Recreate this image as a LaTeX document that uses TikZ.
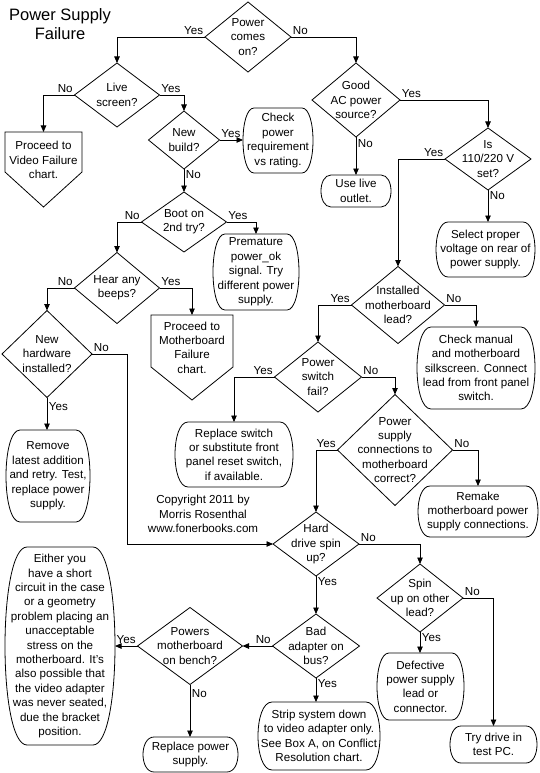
\documentclass[tikz,border=0pt]{standalone}
\usepackage{fontspec}
\setmainfont{Liberation Sans}
\usetikzlibrary{shapes.geometric,arrows.meta,calc}

\tikzset{
  shapeline/.style={draw=black, line width=0.8pt},
  dia/.style={diamond, draw=black, line width=0.8pt, inner sep=0pt, outer sep=0pt},
  txt/.style={align=center, inner sep=0pt, font=\fontsize{11.6}{14.4}\selectfont},
  boxtext/.style={txt, rectangle, inner sep=0pt, outer sep=0pt},
  arr/.style={draw=black, line width=0.8pt, -{Triangle[length=6.5pt,width=5.5pt]}},
  lbl/.style={font=\fontsize{11.6}{14.4}\selectfont, inner sep=1.5pt},
}

% name, center, width, height, inset, text
\newcommand\barrelnode[6]{%
  \node[boxtext, minimum width=#3pt, minimum height=#4pt] (#1) at (#2) {#6};
  \draw[shapeline] ($(#1.north west)+(#5,0)$) -- ($(#1.north east)+(-#5,0)$)
    .. controls ($(#1.north east)+(#5/3,0)$) and ($(#1.south east)+(#5/3,0)$) .. ($(#1.south east)+(-#5,0)$)
    -- ($(#1.south west)+(#5,0)$)
    .. controls ($(#1.south west)+(-#5/3,0)$) and ($(#1.north west)+(-#5/3,0)$) .. cycle;
}

\begin{document}
\begin{tikzpicture}[x=1pt,y=-1pt]
\useasboundingbox (0,0) rectangle (540,773);

% title
\node[align=center, inner sep=0pt, font=\fontsize{16.5}{19}\selectfont] (title) at (60,24) {Power Supply\\Failure};

% diamonds
\node[dia, minimum width=86pt, minimum height=70pt] (dPower) at (248,37) {};
\node[txt] at (dPower) {Power\\comes\\on?};
\node[dia, minimum width=85pt, minimum height=64pt] (dLive) at (117,95) {};
\node[txt] at (dLive) {Live\\screen?};
\node[dia, minimum width=71pt, minimum height=58pt] (dNew) at (184,140) {};
\node[txt] at (dNew) {New\\build?};
\node[dia, minimum width=88pt, minimum height=74pt] (dGood) at (356,100) {};
\node[txt] at (dGood) {Good\\AC power\\source?};
\node[dia, minimum width=86pt, minimum height=62pt] (dIs) at (488,159) {};
\node[txt] at (dIs) {Is\\110/220 V\\set?};
\node[dia, minimum width=85pt, minimum height=60pt] (dBoot) at (184,222) {};
\node[txt] at (dBoot) {Boot on\\2nd try?};
\node[dia, minimum width=85pt, minimum height=71pt] (dHear) at (117,288) {};
\node[txt] at (dHear) {Hear any\\beeps?};
\node[dia, minimum width=90pt, minimum height=87pt] (dNewHw) at (47,354) {};
\node[txt] at (dNewHw) {New\\hardware\\installed?};
\node[dia, minimum width=93pt, minimum height=77pt] (dInst) at (398,305) {};
\node[txt] at (dInst) {Installed\\motherboard\\lead?};
\node[dia, minimum width=87pt, minimum height=70pt] (dSwitch) at (318,377) {};
\node[txt] at (dSwitch) {Power\\switch\\fail?};
\node[dia, minimum width=115pt, minimum height=111pt] (dConn) at (395,450) {};
\node[txt] at (dConn) {Power\\supply\\connections to\\motherboard\\correct?};
\node[dia, minimum width=86pt, minimum height=64pt] (dHard) at (316,544) {};
\node[txt] at (dHard) {Hard\\drive spin\\up?};
\node[dia, minimum width=86pt, minimum height=68pt] (dSpin) at (420,598) {};
\node[txt] at (dSpin) {Spin\\up on other\\lead?};
\node[dia, minimum width=87pt, minimum height=64pt] (dBad) at (316,646) {};
\node[txt] at (dBad) {Bad\\adapter on\\bus?};
\node[dia, minimum width=105pt, minimum height=77pt] (dBench) at (190,646) {};
\node[txt] at (dBench) {Powers\\motherboard\\on bench?};

% rounded boxes
\barrelnode{bCheck}{278,140.5}{70}{65}{11}{Check\\power\\requirement\\vs rating.}
\barrelnode{bOutlet}{356,191}{70}{32}{10}{Use live\\outlet.}
\barrelnode{bSelect}{485.5,249.5}{99}{55}{12}{Select proper\\voltage on rear of\\power supply.}
\barrelnode{bPremature}{256,272}{86}{76}{12}{Premature\\power\_ok\\signal. Try\\different power\\supply.}
\barrelnode{bRemove}{48,476}{84}{92}{14}{Remove\\latest addition\\and retry. Test,\\replace power\\supply.}
\barrelnode{bCheckMan}{476,368}{118}{82}{14}{Check manual\\and motherboard\\silkscreen. Connect\\lead from front panel\\switch.}
\barrelnode{bReplSw}{234,454.5}{118}{65}{13}{Replace switch\\or substitute front\\panel reset switch,\\if available.}
\barrelnode{bRemake}{478,511.5}{120}{51}{12}{Remake\\motherboard power\\supply connections.}
\barrelnode{bDefect}{420.5,686.5}{87}{67}{12}{Defective\\power supply\\lead or\\connector.}
\barrelnode{bTry}{493.5,744.5}{87}{37}{11}{Try drive in\\test PC.}
\barrelnode{bStrip}{319,736}{122}{68}{14}{Strip system down\\to video adapter only.\\See Box A, on Conflict\\Resolution chart.}
\barrelnode{bReplPs}{190.5,754.5}{95}{35}{11}{Replace power\\supply.}
\barrelnode{bEither}{60,646}{110}{198}{22}{Either you\\have a short\\circuit in the case\\or a geometry\\problem placing an\\unacceptable\\stress on the\\motherboard. It's\\also possible that\\the video adapter\\was never seated,\\due the bracket\\position.}

% off-page connectors
\node[boxtext, minimum width=77pt, minimum height=75pt] (pVideo) at (43.5,169.5) {};
\draw[shapeline] (pVideo.north west) -- (pVideo.north east) -- ($(pVideo.north east)+(0,40)$)
  -- (pVideo.south) -- ($(pVideo.north west)+(0,40)$) -- cycle;
\node[txt] at (43.5,160) {Proceed to\\Video Failure\\chart.};
\node[boxtext, minimum width=82pt, minimum height=85pt] (pMother) at (192,357.5) {};
\draw[shapeline] (pMother.north west) -- (pMother.north east) -- ($(pMother.north east)+(0,52)$)
  -- (pMother.south) -- ($(pMother.north west)+(0,52)$) -- cycle;
\node[txt] at (192,347.5) {Proceed to\\Motherboard\\Failure\\chart.};

% copyright
\node[txt] (copy) at (203,514) {Copyright 2011 by\\Morris Rosenthal\\www.fonerbooks.com};

% connectors
\draw[arr] (dPower.west) -| node[lbl, pos=0, above left] {Yes} (dLive.north);
\draw[arr] (dPower.east) -| node[lbl, pos=0, above right] {No} (dGood.north);
\draw[arr] (dLive.west) -| node[lbl, pos=0, above left] {No} (pVideo.north);
\draw[arr] (dLive.east) -| node[lbl, pos=0, above right] {Yes} (dNew.north);
\draw[arr] (dNew.east) -- node[lbl, pos=0, above right] {Yes} (dNew.east -| bCheck.west);
\draw[arr] (dNew.south) -- node[lbl, pos=0, below right] {No} (dBoot.north);
\draw[arr] (dGood.east) -| node[lbl, pos=0, above right] {Yes} (dIs.north);
\draw[arr] (dGood.south) -- node[lbl, pos=0, below right, yshift=-1pt] {No} (bOutlet.north);
\draw[arr] (dIs.west) -| node[lbl, pos=0, above left] {Yes} (dInst.north);
\draw[arr] (dIs.south) -- node[lbl, pos=0, below right] {No} (dIs.south |- bSelect.north);
\draw[arr] (dBoot.west) -| node[lbl, pos=0, above left] {No} (dHear.north);
\draw[arr] (dBoot.east) -| node[lbl, pos=0, above right] {Yes} (bPremature.north);
\draw[arr] (dHear.west) -| node[lbl, pos=0, above left] {No} (dNewHw.north);
\draw[arr] (dHear.east) -| node[lbl, pos=0, above right] {Yes} (pMother.north);
\draw[arr] (dNewHw.east) -- node[lbl, pos=0, above right] {No} ++(35,0) |- (dHard.west);
\draw[arr] (dNewHw.south) -- node[lbl, pos=0, below right, yshift=-3pt] {Yes} (dNewHw.south |- bRemove.north);
\draw[arr] (dInst.west) -| node[lbl, pos=0, above left] {Yes} (dSwitch.north);
\draw[arr] (dInst.east) -| node[lbl, pos=0, above right] {No} (bCheckMan.north);
\draw[arr] (dSwitch.west) -| node[lbl, pos=0, above left] {Yes} (bReplSw.north);
\draw[arr] (dSwitch.east) -| node[lbl, pos=0, above right] {No} (dConn.north);
\draw[arr] (dConn.west) -| node[lbl, pos=0, above left] {Yes} (dHard.north);
\draw[arr] (dConn.east) -| node[lbl, pos=0, above right] {No} (bRemake.north);
\draw[arr] (dHard.east) -| node[lbl, pos=0, above right] {No} (dSpin.north);
\draw[arr] (dHard.south) -- node[lbl, pos=0, below right] {Yes} (dBad.north);
\draw[arr] (dSpin.south) -- node[lbl, pos=0, below right] {Yes} (dSpin.south |- bDefect.north);
\draw[arr] (dSpin.east) -| node[lbl, pos=0, above right] {No} (bTry.north);
\draw[arr] (dBad.west) -- node[lbl, pos=0, above left] {No} (dBench.east);
\draw[arr] (dBad.south) -- node[lbl, pos=0, below right] {Yes} (dBad.south |- bStrip.north);
\draw[arr] (dBench.west) -- node[lbl, pos=0, above left] {Yes} (dBench.west -| bEither.east);
\draw[arr] (dBench.south) -- node[lbl, pos=0, below right, yshift=-3pt] {No} (dBench.south |- bReplPs.north);
\end{tikzpicture}
\end{document}
